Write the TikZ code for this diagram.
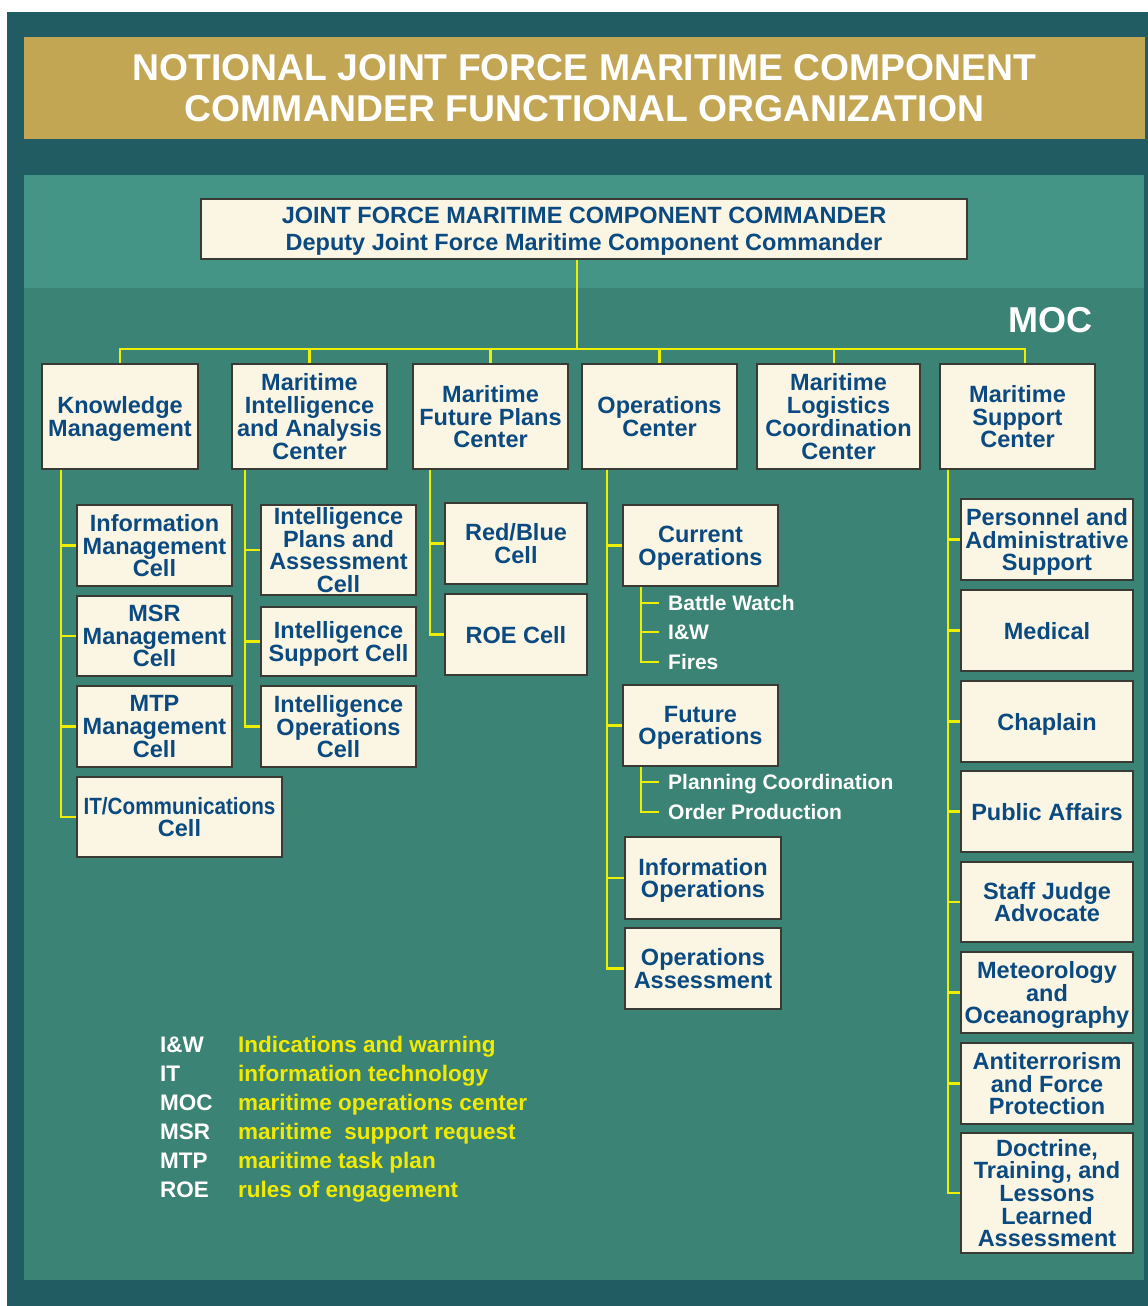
\documentclass[tikz,border=0pt]{standalone}
\usepackage{fontspec}
\setmainfont{Liberation Sans}
\usepackage{tikz}

\definecolor{frame}{RGB}{34,92,99}
\definecolor{gold}{RGB}{195,166,84}
\definecolor{upperpanel}{RGB}{69,149,135}
\definecolor{lowerpanel}{RGB}{59,131,116}
\definecolor{boxfill}{RGB}{251,245,227}
\definecolor{boxtext}{RGB}{10,74,128}
\definecolor{boxline}{RGB}{58,58,52}
\definecolor{wire}{RGB}{238,238,0}
\definecolor{legendyellow}{RGB}{242,235,0}

\begin{document}
\begin{tikzpicture}[x=1pt, y=-1pt,
    unit/.style={draw=boxline, line width=1.2pt, fill=boxfill, text=boxtext,
        font=\fontsize{23.5}{22.7}\selectfont\bfseries, align=center,
        inner sep=0pt, text depth=0pt, minimum width=155pt, minimum height=81pt},
    head/.style={unit, minimum height=105pt},
    link/.style={draw=wire, line width=2.2pt},
    item/.style={anchor=west, inner sep=0pt, text=white,
        font=\fontsize{21}{21}\selectfont\bfseries, text height=15pt, text depth=0pt},
    abbr/.style={anchor=base west, inner sep=0pt, text=white,
        font=\fontsize{22.5}{22.5}\selectfont\bfseries},
    defn/.style={anchor=base west, inner sep=0pt, text=legendyellow,
        font=\fontsize{22.5}{22.5}\selectfont\bfseries}
]
    \useasboundingbox (0,0) rectangle (1148,1306);
    \fill[white] (0,0) rectangle (1148,1306);
    \fill[frame] (7,12) rectangle (1148,1306);
    \fill[gold] (24,37) rectangle (1145,139);
    \fill[upperpanel] (24,175) rectangle (1144,288);
    \fill[lowerpanel] (24,288) rectangle (1144,1280);

    \node[text=white, font=\fontsize{37.3}{41}\selectfont\bfseries, align=center]
        (title) at (584.5,88) {NOTIONAL JOINT FORCE MARITIME COMPONENT\\COMMANDER FUNCTIONAL ORGANIZATION};
    \node[text=white, font=\fontsize{36}{36}\selectfont\bfseries] (moc) at (1050,320) {MOC};

    \node[unit, minimum width=766pt, minimum height=60pt, font=\fontsize{23.5}{27}\selectfont\bfseries]
        (jfmcc) at (584,229) {JOINT FORCE MARITIME COMPONENT COMMANDER\\Deputy Joint Force Maritime Component Commander};

    \node[head, minimum width=156pt] (km) at (120,416.5) {Knowledge\\Management};
    \node[head] (miac) at (309.5,416.5) {Maritime\\Intelligence\\and Analysis\\Center};
    \node[head] (mfpc) at (490.5,416.5) {Maritime\\Future Plans\\Center};
    \node[head] (opc) at (659.5,416.5) {Operations\\Center};
    \node[head, minimum width=163pt] (mlcc) at (838.5,416.5) {Maritime\\Logistics\\Coordination\\Center};
    \node[head] (msc) at (1017.5,416.5) {Maritime\\Support\\Center};

    \node[unit] (imc) at (154.5,545.5) {Information\\Management\\Cell};
    \node[unit, minimum height=80pt] (msrc) at (154.5,636) {MSR\\Management\\Cell};
    \node[unit] (mtpc) at (154.5,726.5) {MTP\\Management\\Cell};
    \node[unit, minimum width=205pt, minimum height=80pt] (itc) at (179.5,817)
        {\scalebox{0.88}[1]{IT/Communications}\\Cell};

    \node[unit, minimum height=90pt] (ipac) at (338.5,550) {Intelligence\\Plans and\\Assessment\\Cell};
    \node[unit, minimum height=69pt] (isc) at (338.5,641.5) {Intelligence\\Support Cell};
    \node[unit] (ioc) at (338.5,726.5) {Intelligence\\Operations\\Cell};

    \node[unit, minimum width=142pt] (rbc) at (516,543.5) {Red/Blue\\Cell};
    \node[unit, minimum width=142pt] (roec) at (516,634.5) {ROE Cell};

    \node[unit] (curops) at (700.5,545.5) {Current\\Operations};
    \node[item] (bw) at (668,603) {Battle Watch};
    \node[item] (iw) at (668,632) {I\&W};
    \node[item] (fires) at (668,662) {Fires};
    \node[unit] (futops) at (700.5,725.5) {Future\\Operations};
    \node[item] (plc) at (668,782) {Planning Coordination};
    \node[item] (orp) at (668,812) {Order Production};
    \node[unit, minimum width=156pt, minimum height=82pt] (infoops) at (703,878) {Information\\Operations};
    \node[unit, minimum width=156pt] (opsa) at (703,968.5) {Operations\\Assessment};

    \node[unit, minimum width=172pt] (pas) at (1047,539.5) {Personnel and\\Administrative\\Support};
    \node[unit, minimum width=172pt] (med) at (1047,630.5) {Medical};
    \node[unit, minimum width=172pt] (chap) at (1047,721.5) {Chaplain};
    \node[unit, minimum width=172pt] (pa) at (1047,811.5) {Public Affairs};
    \node[unit, minimum width=172pt, minimum height=80pt] (sja) at (1047,902) {Staff Judge\\Advocate};
    \node[unit, minimum width=172pt] (metoc) at (1047,992.5) {Meteorology\\and\\Oceanography};
    \node[unit, minimum width=172pt] (atfp) at (1047,1083.5) {Antiterrorism\\and Force\\Protection};
    \node[unit, minimum width=172pt, minimum height=120pt] (dtll) at (1047,1193)
        {Doctrine,\\Training, and\\Lessons\\Learned\\Assessment};

    \coordinate (bus) at (577,349);
    \draw[link] (jfmcc.south -| bus) -- (bus);
    \draw[link] (km.north) |- (bus) -| ([xshift=7.5pt]msc.north);
    \foreach \n in {miac,mfpc,opc}
        \draw[link] (\n.north) -- (\n.north |- bus);
    \draw[link] ([xshift=-4.5pt]mlcc.north) -- ([xshift=-4.5pt]mlcc.north |- bus);

    \foreach \c in {imc,msrc,mtpc,itc}
        \draw[link] ([xshift=-59pt]km.south) |- (\c.west);
    \foreach \c in {ipac,isc,ioc}
        \draw[link] ([xshift=-64.5pt]miac.south) |- (\c.west);
    \foreach \c in {rbc,roec}
        \draw[link] ([xshift=-60.5pt]mfpc.south) |- (\c.west);
    \foreach \c in {curops,futops,infoops,opsa}
        \draw[link] ([xshift=-52.5pt]opc.south) |- (\c.west);
    \foreach \c in {pas,med,chap,pa,sja,metoc,atfp,dtll}
        \draw[link] ([xshift=-69.5pt]msc.south) |- (\c.west);
    \foreach \i in {bw,iw,fires}
        \draw[link] ([xshift=-59.5pt]curops.south) |- ([xshift=-9pt]\i.west);
    \foreach \i in {plc,orp}
        \draw[link] ([xshift=-59.5pt]futops.south) |- ([xshift=-9pt]\i.west);

    \foreach \ab/\df [count=\i] in {I\&W/Indications and warning, IT/information technology,
        MOC/maritime operations center, MSR/maritime\ \ support request,
        MTP/maritime task plan, ROE/rules of engagement} {
        \node[abbr] (ab\i) at (160,{1022.9+29.1*\i}) {\ab};
        \node[defn] (df\i) at (238,{1022.9+29.1*\i}) {\df};
    }
\end{tikzpicture}
\end{document}
